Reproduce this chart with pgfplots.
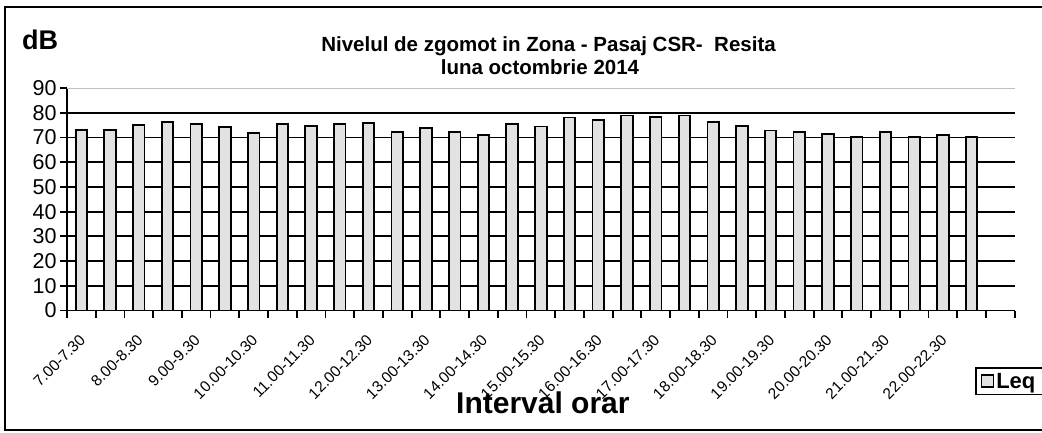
\documentclass[border=0pt]{standalone}
\usepackage{fontspec}
\setmainfont{Liberation Sans}
\usepackage{pgfplots}
\pgfplotsset{compat=1.18}
\definecolor{barfill}{RGB}{226,226,229}
\begin{document}
\begin{tikzpicture}[x=1pt,y=1pt]
\draw[line width=2pt] (5,2) rectangle (1080,425);
\begin{axis}[
  at={(67pt,121.5pt)}, anchor=south west,
  scale only axis, width=947.7pt, height=222.5pt,
  xmin=-0.5, xmax=32.5, ymin=0, ymax=90,
  axis x line*=bottom, axis y line*=left,
  axis line style={line width=1.8pt, black},
  tick align=outside, major tick length=7pt,
  tick style={black, line width=1.8pt},
  ytick={0,10,...,80},
  extra y ticks={90},
  extra y tick style={grid style={black!25, line width=0.8pt}},
  ymajorgrids, grid style={black, line width=1.8pt},
  xtick={-0.5,0.5,...,32.5}, xticklabels={},
  extra x ticks={0,2,...,30},
  extra x tick labels={7.00-7.30,8.00-8.30,9.00-9.30,10.00-10.30,11.00-11.30,12.00-12.30,13.00-13.30,14.00-14.30,15.00-15.30,16.00-16.30,17.00-17.30,18.00-18.30,19.00-19.30,20.00-20.30,21.00-21.30,22.00-22.30},
  extra x tick style={major tick length=0pt, xticklabel style={rotate=45, anchor=east, font=\fontsize{15.5}{18}\selectfont, xshift=-15pt, yshift=-20pt}},
  yticklabel style={font=\fontsize{21.5}{24}\selectfont},
  /pgf/number format/assume math mode=true,
  legend style={at={(0.958,-0.254)}, anchor=north west, draw=black, line width=1.8pt,
    font=\fontsize{22}{26}\selectfont\bfseries, inner xsep=5pt, inner ysep=3pt},
  legend image code/.code={\draw[line width=1.5pt, fill=barfill] (0pt,-6pt) rectangle (12pt,6pt);},
]
\addplot[ybar, bar width=11.5pt, draw=black, line width=1.8pt, fill=barfill] coordinates {
(0,73.1) (1,73.1) (2,75.1) (3,76.3) (4,75.4) (5,74.2) (6,71.9) (7,75.3)
(8,74.6) (9,75.3) (10,75.8) (11,72.1) (12,73.8) (13,72.1) (14,71.1) (15,75.3)
(16,74.4) (17,78.1) (18,76.9) (19,78.9) (20,78.3) (21,78.9) (22,76.1) (23,74.6)
(24,72.8) (25,72.1) (26,71.4) (27,70.2) (28,72.1) (29,70.3) (30,71.0) (31,70.3)
};
\addlegendentry{\makebox[70pt][l]{Leq}}
\end{axis}
\node[anchor=base west, font=\fontsize{27}{30}\selectfont\bfseries, inner sep=0pt] at (22,382) {dB};
\node[anchor=base, font=\fontsize{20.5}{24}\selectfont\bfseries, inner sep=0pt] at (548.5,380.3) {Nivelul de zgomot in Zona - Pasaj CSR-\ \ Resita};
\node[anchor=base, font=\fontsize{20.5}{24}\selectfont\bfseries, inner sep=0pt] at (540,357.7) {luna octombrie 2014};
\node[anchor=base west, font=\fontsize{30}{34}\selectfont\bfseries, inner sep=0pt] at (456,19) {Interval orar};
\pgfresetboundingbox
\path[use as bounding box] (0,0) rectangle (1042,432);
\end{tikzpicture}
\end{document}
